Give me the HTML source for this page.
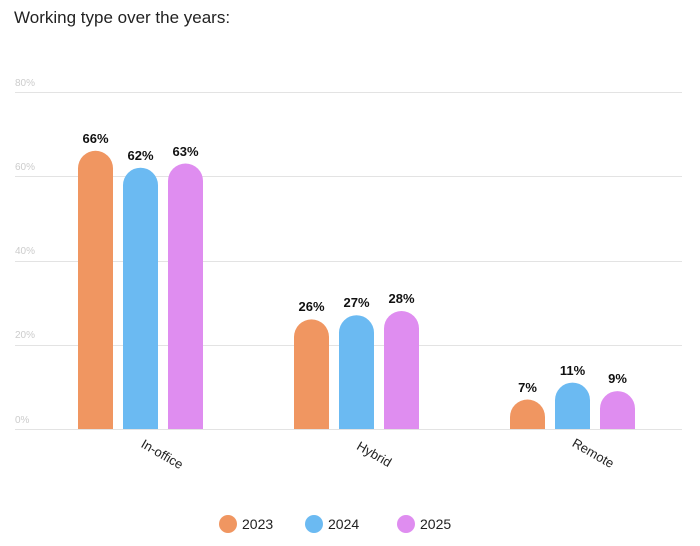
<!DOCTYPE html>
<html><head><meta charset="utf-8"><style>
body{margin:0;background:#fff;width:700px;height:541px;overflow:hidden;font-family:"Liberation Sans",sans-serif;}
</style></head><body>
<svg width="700" height="541" xmlns="http://www.w3.org/2000/svg" font-family="Liberation Sans, sans-serif">
<text x="14" y="23" font-size="17" fill="#222">Working type over the years:</text>
<g stroke="#e3e3e3" stroke-width="1">
<line x1="15" x2="682" y1="92.5" y2="92.5"/>
<line x1="15" x2="682" y1="176.5" y2="176.5"/>
<line x1="15" x2="682" y1="261.5" y2="261.5"/>
<line x1="15" x2="682" y1="345.5" y2="345.5"/>
<line x1="15" x2="682" y1="429.5" y2="429.5"/>
</g>
<g font-size="10" fill="#ccc">
<text x="15" y="86">80%</text><text x="15" y="170">60%</text><text x="15" y="254">40%</text><text x="15" y="338">20%</text><text x="15" y="423">0%</text>
</g>
<path d="M78 429 V168.3 A17.5 17.5 0 0 1 113 168.3 V429 Z" fill="#f09661"/>
<path d="M123 429 V185.2 A17.5 17.5 0 0 1 158 185.2 V429 Z" fill="#6bbaf2"/>
<path d="M168 429 V181 A17.5 17.5 0 0 1 203 181 V429 Z" fill="#df8df0"/>
<path d="M294 429 V336.9 A17.5 17.5 0 0 1 329 336.9 V429 Z" fill="#f09661"/>
<path d="M339 429 V332.7 A17.5 17.5 0 0 1 374 332.7 V429 Z" fill="#6bbaf2"/>
<path d="M384 429 V328.5 A17.5 17.5 0 0 1 419 328.5 V429 Z" fill="#df8df0"/>
<path d="M510 429 V417 A17.5 17.5 0 0 1 545 417 V429 Z" fill="#f09661"/>
<path d="M555 429 V400.1 A17.5 17.5 0 0 1 590 400.1 V429 Z" fill="#6bbaf2"/>
<path d="M600 429 V408.6 A17.5 17.5 0 0 1 635 408.6 V429 Z" fill="#df8df0"/>
<g font-size="13" font-weight="bold" fill="#111" text-anchor="middle">
<text x="95.5" y="143">66%</text><text x="140.5" y="160">62%</text><text x="185.5" y="156">63%</text>
<text x="311.5" y="311">26%</text><text x="356.5" y="307">27%</text><text x="401.5" y="303">28%</text>
<text x="527.5" y="392">7%</text><text x="572.5" y="375">11%</text><text x="617.5" y="383">9%</text>
</g>
<g font-size="13" fill="#222" text-anchor="middle">
<text transform="translate(160,458) rotate(30)">In-office</text>
<text transform="translate(372,458) rotate(30)">Hybrid</text>
<text transform="translate(591,457) rotate(30)">Remote</text>
</g>
<g font-size="14" fill="#222">
<circle cx="228" cy="524" r="9" fill="#f09661"/><text x="242" y="529">2023</text>
<circle cx="314" cy="524" r="9" fill="#6bbaf2"/><text x="328" y="529">2024</text>
<circle cx="406" cy="524" r="9" fill="#df8df0"/><text x="420" y="529">2025</text>
</g>
</svg>
</body></html>
